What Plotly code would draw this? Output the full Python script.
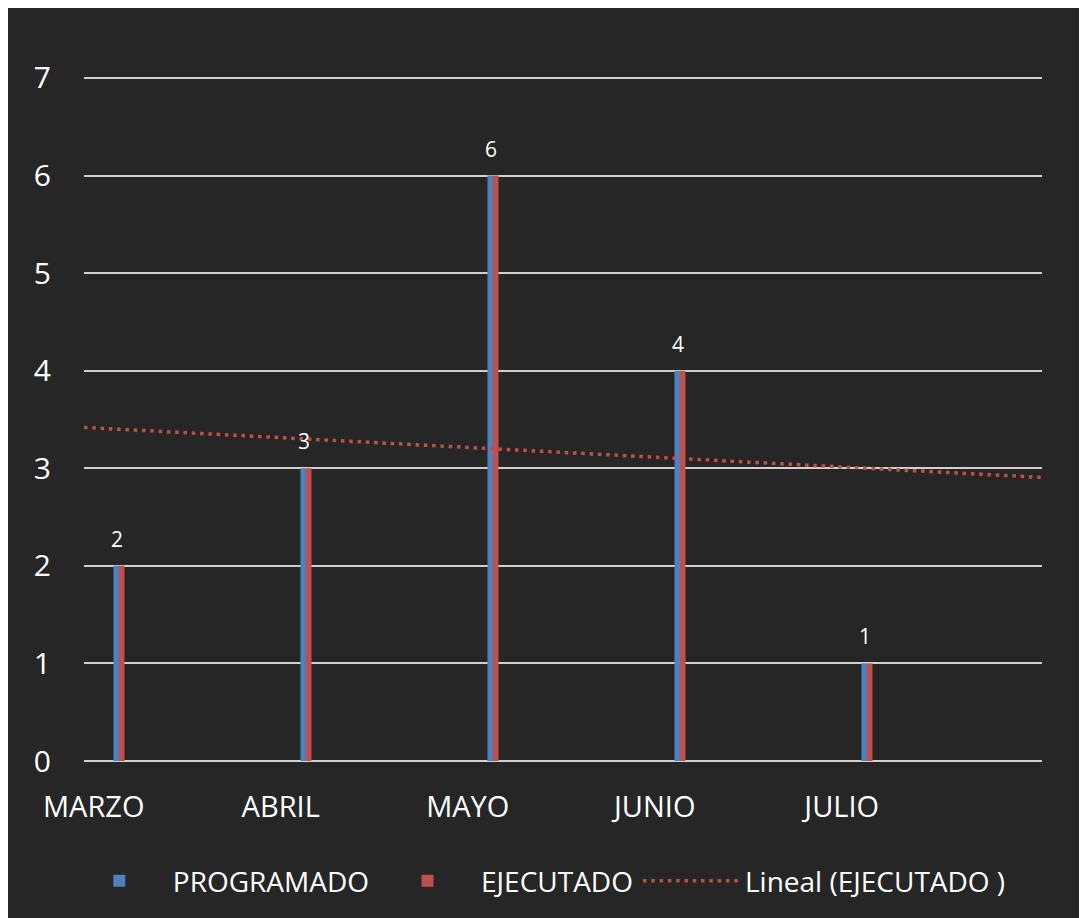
import numpy as np
import plotly.graph_objects as go

# ---- data ----
categories = ["MARZO", "ABRIL", "MAYO", "JUNIO", "JULIO"]
programado = [2, 3, 6, 4, 1]
ejecutado = [2, 3, 6, 4, 1]
y_ticks = [0, 1, 2, 3, 4, 5, 6, 7]

# ---- styling / layout constants ----
BG = "#262626"
BLUE = "#4f81bd"
RED = "#c0504d"
GRID = "#d0d0d0"
FONT = "Open Sans"
XMIN, XMAX = 0.813, 5.936
YMAX = 7.03
LABEL_OFFSET = -0.135

xpos = np.arange(1, len(categories) + 1)

fig = go.Figure()
fig.add_trace(go.Bar(x=xpos, y=programado, name="PROGRAMADO",
                     marker=dict(color=BLUE, line=dict(width=0))))
fig.add_trace(go.Bar(x=xpos, y=ejecutado, name="EJECUTADO",
                     marker=dict(color=RED, line=dict(width=0))))

# linear trendline of EJECUTADO (least squares), drawn across the axis span
slope, intercept = np.polyfit(xpos, ejecutado, 1)
tx = np.array([XMIN, XMAX])
fig.add_trace(go.Scatter(x=tx, y=slope * tx + intercept, mode="lines",
                         name="Lineal (EJECUTADO )",
                         line=dict(color=RED, width=3.5, dash="3.5px,4.8px")))

# data labels
for xv, v in zip(xpos, ejecutado):
    fig.add_annotation(x=xv, y=v, text=str(v), showarrow=False,
                       yanchor="bottom", yshift=11, xshift=-2,
                       font=dict(family=FONT, size=21, color="white"))

fig.update_layout(
    width=1079, height=910,
    margin=dict(l=76, r=45, t=67, b=155),
    paper_bgcolor=BG, plot_bgcolor=BG,
    barmode="group", bargap=0.941, bargroupgap=0,
    font=dict(family=FONT, color="white"),
    showlegend=True,
    legend=dict(orientation="h", x=-0.019, xanchor="left", y=-0.175, yanchor="middle",
                font=dict(family=FONT, size=28, color="white"),
                bgcolor="rgba(0,0,0,0)", itemwidth=97),
)
fig.update_xaxes(range=[XMIN, XMAX], tickmode="array",
                 tickvals=xpos + LABEL_OFFSET, ticktext=categories,
                 showgrid=False, zeroline=False, showline=False,
                 ticks="", ticklabelstandoff=26,
                 tickfont=dict(family=FONT, size=29, color="white"))
fig.update_yaxes(range=[0, YMAX], tickmode="array", tickvals=y_ticks,
                 showgrid=True, gridcolor=GRID, gridwidth=1.6,
                 zeroline=True, zerolinecolor=GRID, zerolinewidth=1.6,
                 showline=False, ticks="",
                 ticklabelstandoff=32,
                 tickfont=dict(family=FONT, size=30, color="white"))

fig.write_html("out.html")
